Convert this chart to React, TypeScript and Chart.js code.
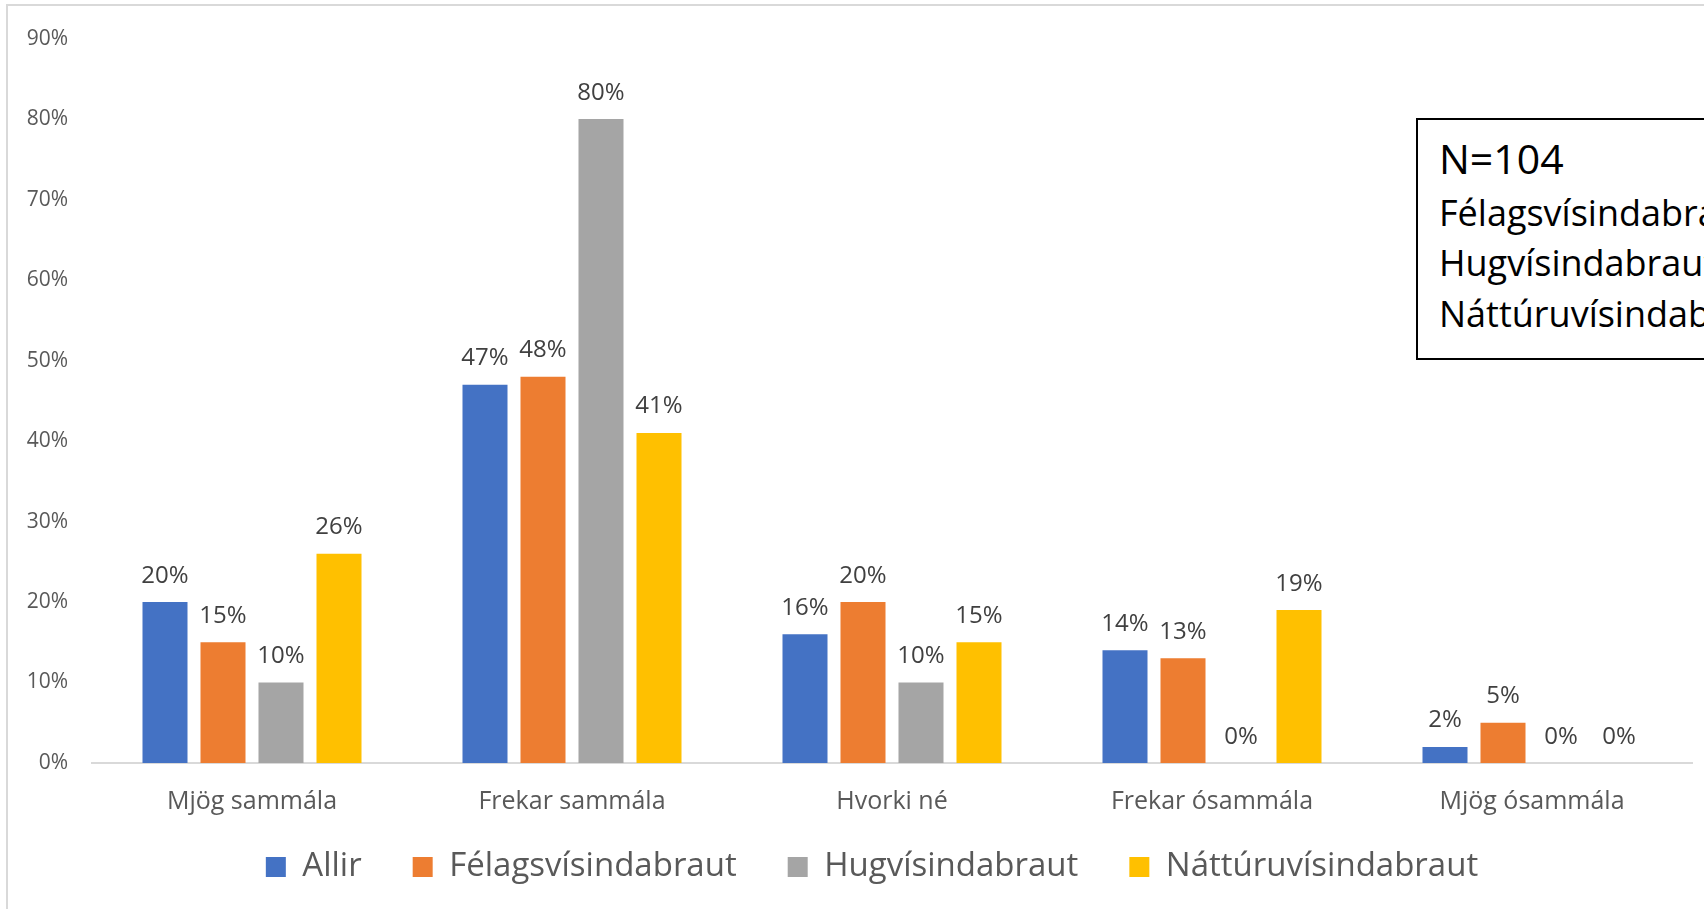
import React, { useEffect, useRef } from "react";
import { Chart, registerables } from "chart.js";

Chart.register(...registerables);

const categories = ["Mjög sammála", "Frekar sammála", "Hvorki né", "Frekar ósammála", "Mjög ósammála"];
const seriesNames = ["Allir", "Félagsvísindabraut", "Hugvísindabraut", "Náttúruvísindabraut"];
const allir = [20, 47, 16, 14, 2];
const felags = [15, 48, 20, 13, 5];
const hugvis = [10, 80, 10, 0, 0];
const natturu = [26, 41, 15, 19, 0];
const colors = ["#4472C4", "#ED7D31", "#A5A5A5", "#FFC000"];
const yTicks = [0, 10, 20, 30, 40, 50, 60, 70, 80, 90];
const boxLines = ["Félagsvísindabraut", "Hugvísindabraut", "Náttúruvísindabraut"];
const boxTitle = "N=104";

const FONT = "'Open Sans', 'Noto Sans', sans-serif";

const dataLabels = {
  id: "dataLabels",
  afterDatasetsDraw(chart: any) {
    const ctx = chart.ctx;
    ctx.save();
    ctx.font = `24px ${FONT}`;
    ctx.fillStyle = "#404040";
    ctx.textAlign = "center";
    ctx.textBaseline = "alphabetic";
    chart.data.datasets.forEach((ds: any, i: number) => {
      const meta = chart.getDatasetMeta(i);
      meta.data.forEach((el: any, j: number) => {
        ctx.fillText(`${ds.data[j]}%`, el.x, el.y - 19.5);
      });
    });
    ctx.restore();
  },
};

const legendShift = {
  id: "legendShift",
  afterLayout(chart: any) {
    const lg = chart.legend;
    if (!lg) return;
    const dy = -18.5;
    const dx = 12.5;
    lg.top += dy; lg.bottom += dy;
    lg.left += dx; lg.right += dx;
  },
};

export default function App() {
  const ref = useRef<HTMLCanvasElement>(null);
  useEffect(() => {
    if (!ref.current) return;
    const series = [allir, felags, hugvis, natturu];
    const chart = new Chart(ref.current, {
      type: "bar",
      data: {
        labels: categories,
        datasets: series.map((d, i) => ({
          label: seriesNames[i],
          data: d,
          backgroundColor: colors[i],
          borderWidth: 0,
          categoryPercentage: 0.725,
          barPercentage: 0.776,
        })),
      },
      options: {
        animation: false,
        responsive: false,
        maintainAspectRatio: false,
        layout: { padding: { left: 18, right: 12, top: 0, bottom: 0 } },
        plugins: {
          tooltip: { enabled: false },
          legend: {
            position: "bottom",
            labels: {
              boxWidth: 20,
              boxHeight: 20,
              padding: 51,
              color: "#595959",
              font: { family: FONT, size: 33 },
            },
          },
        },
        scales: {
          x: {
            grid: { display: false, drawTicks: false },
            border: { display: true, color: "#D9D9D9", width: 2 },
            ticks: { color: "#595959", font: { family: FONT, size: 25 }, padding: 23.5 },
            afterFit: (s: any) => { s.height = 55; },
          },
          y: {
            min: 0,
            max: 90,
            grid: { display: false, drawTicks: false },
            border: { display: false },
            afterBuildTicks: (s: any) => { s.ticks = yTicks.map((v) => ({ value: v })); },
            ticks: {
              color: "#595959",
              font: { family: FONT, size: 21 },
              padding: 24,
              callback: (v: any) => `${v}%`,
            },
            afterFit: (s: any) => { s.width = 65; },
          },
        },
      },
      plugins: [dataLabels, legendShift],
    });
    return () => chart.destroy();
  }, []);

  return (
    <div style={{ position: "fixed", left: 0, top: 0, width: 1704, height: 909, overflow: "hidden", background: "#fff" }}>
      <div style={{ position: "absolute", left: 6, top: 4, width: 1800, height: 1000, borderTop: "2px solid #D9D9D9", borderLeft: "2px solid #D9D9D9" }} />
      <canvas ref={ref} width={1695} height={910} style={{ position: "absolute", left: 9, top: 2, width: 1695, height: 910 }} />
      <div style={{ position: "absolute", left: 1416, top: 118, width: 500, height: 238, border: "2px solid #000", background: "#fff", fontFamily: FONT, color: "#000", whiteSpace: "nowrap" }}>
        <div style={{ position: "absolute", left: 21, top: 130 - 120, fontSize: 41, lineHeight: "56px" }}>{boxTitle}</div>
        {boxLines.map((t, i) => (
          <div key={t} style={{ position: "absolute", left: 21, top: [188, 238, 289][i] - 120, fontSize: 36, lineHeight: "50px" }}>{t}</div>
        ))}
      </div>
    </div>
  );
}
